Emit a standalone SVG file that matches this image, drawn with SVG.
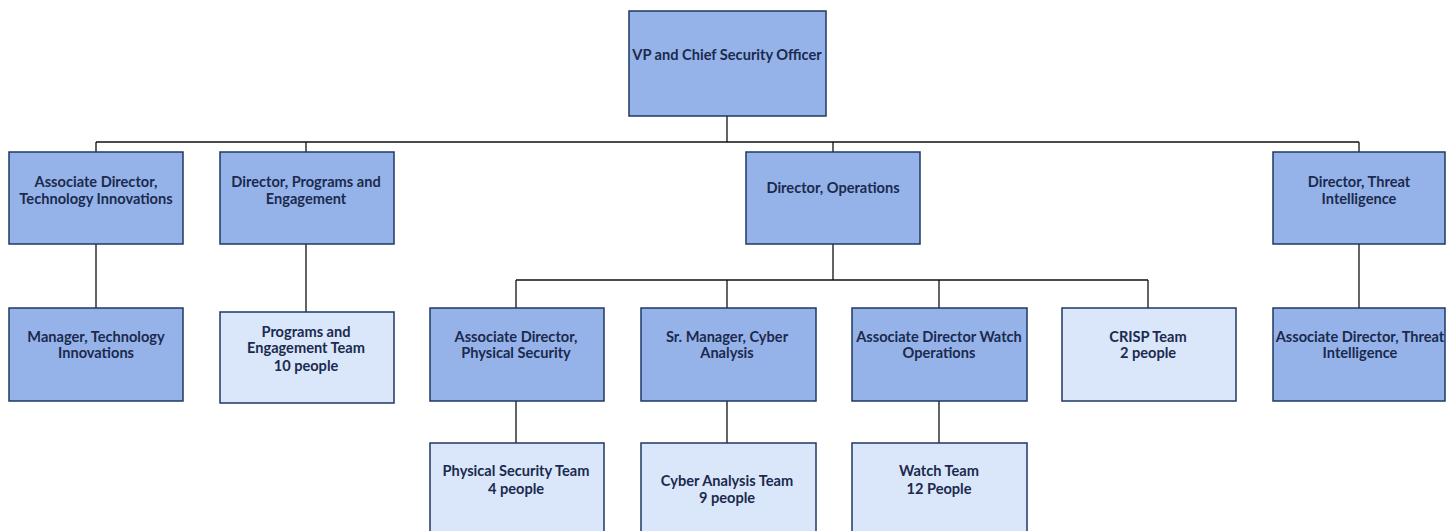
<svg xmlns="http://www.w3.org/2000/svg" width="1455" height="531" viewBox="0 0 1455 531">
<style>
.d{fill:#95B3E9;stroke:#1F3864;stroke-width:1.5}
.l{fill:#DAE7FA;stroke:#1F3864;stroke-width:1.5}
text{font-family:"Lato","Liberation Sans",sans-serif;font-weight:700;font-size:14.6px;fill:#1B2A4E;text-anchor:middle}
.c{fill:none;stroke:#111;stroke-width:1.3}
</style>
<rect width="1455" height="531" fill="#fff"/>
<g id="connectors">
<path class="c" d="M727,116V142M96,142H1359M96,142V152M306,142V152M833,142V152M1359,142V152"/>
<path class="c" d="M96,244V308M306,244V312M1359,244V308"/>
<path class="c" d="M833,244V280M516,280H1148M516,280V308M727,280V308M939,280V308M1148,280V308"/>
<path class="c" d="M516,401V443M727,401V443M939,401V443"/>
</g>
<g id="vp"><rect class="d" x="629" y="11" width="197" height="105"/><text x="727" y="60">VP and Chief Security Officer</text></g>
<g id="ad-tech"><rect class="d" x="9" y="152" width="174" height="92"/><text x="96" y="187">Associate Director,</text><text x="96" y="204">Technology Innovations</text></g>
<g id="dir-prog"><rect class="d" x="220" y="152" width="174" height="92"/><text x="306" y="187">Director, Programs and</text><text x="306" y="204">Engagement</text></g>
<g id="dir-ops"><rect class="d" x="746" y="152" width="174" height="92"/><text x="833" y="193">Director, Operations</text></g>
<g id="dir-threat"><rect class="d" x="1273" y="152" width="172" height="92"/><text x="1359" y="187">Director, Threat</text><text x="1359" y="204">Intelligence</text></g>
<g id="mgr-tech"><rect class="d" x="9" y="308" width="174" height="93"/><text x="96" y="342">Manager, Technology</text><text x="96" y="358">Innovations</text></g>
<g id="prog-team"><rect class="l" x="220" y="312" width="174" height="91"/><text x="306" y="337">Programs and</text><text x="306" y="353">Engagement Team</text><text x="306" y="371">10 people</text></g>
<g id="ad-phys"><rect class="d" x="430" y="308" width="174" height="93"/><text x="516" y="342">Associate Director,</text><text x="516" y="358">Physical Security</text></g>
<g id="sr-cyber"><rect class="d" x="641" y="308" width="175" height="93"/><text x="727" y="342">Sr. Manager, Cyber</text><text x="727" y="358">Analysis</text></g>
<g id="ad-watch"><rect class="d" x="852" y="308" width="175" height="93"/><text x="939" y="342">Associate Director Watch</text><text x="939" y="358">Operations</text></g>
<g id="crisp"><rect class="l" x="1062" y="308" width="174" height="93"/><text x="1148" y="342">CRISP Team</text><text x="1148" y="358">2 people</text></g>
<g id="ad-threat"><rect class="d" x="1273" y="308" width="172" height="93"/><text x="1360" y="342">Associate Director, Threat</text><text x="1360" y="358">Intelligence</text></g>
<g id="phys-team"><rect class="l" x="430" y="443" width="174" height="100"/><text x="516" y="476">Physical Security Team</text><text x="516" y="494">4 people</text></g>
<g id="cyber-team"><rect class="l" x="641" y="443" width="175" height="100"/><text x="727" y="486">Cyber Analysis Team</text><text x="727" y="503">9 people</text></g>
<g id="watch-team"><rect class="l" x="852" y="443" width="175" height="100"/><text x="939" y="476">Watch Team</text><text x="939" y="494">12 People</text></g>
</svg>
